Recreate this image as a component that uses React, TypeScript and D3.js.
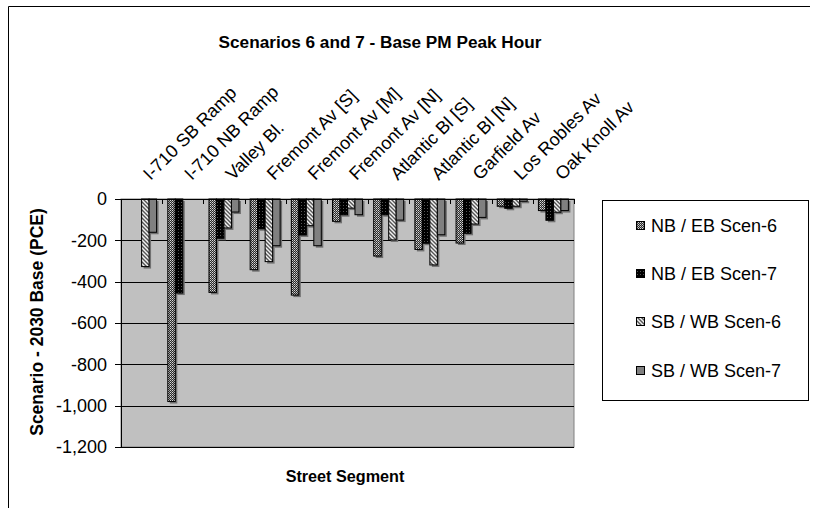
import React from "react";
import * as d3 from "d3";

const categories = [
  "I-710 SB Ramp",
  "I-710 NB Ramp",
  "Valley Bl.",
  "Fremont Av [S]",
  "Fremont Av [M]",
  "Fremont Av [N]",
  "Atlantic Bl [S]",
  "Atlantic Bl [N]",
  "Garfield Av",
  "Los Robles Av",
  "Oak Knoll Av",
];
const nbebScen6 = [0, -980, -452, -342, -465, -108, -276, -244, -213, -35, -56];
const nbebScen7 = [0, -455, -190, -144, -174, -76, -76, -214, -166, -45, -103];
const sbwbScen6 = [-327, 0, -140, -303, -129, -44, -198, -319, -121, -35, -64];
const sbwbScen7 = [-161, 0, -63, -226, -226, -76, -102, -173, -89, -11, -56];
const seriesNames = ["NB / EB Scen-6", "NB / EB Scen-7", "SB / WB Scen-6", "SB / WB Scen-7"];
const seriesValues = [nbebScen6, nbebScen7, sbwbScen6, sbwbScen7];
const seriesFills = ["url(#pChecker)", "url(#pDots)", "url(#pHatch)", "#808080"];
const yTicks = [0, -200, -400, -600, -800, -1000, -1200];

const FONT = "'Liberation Sans', Arial, sans-serif";

export default function App() {
  const plot = { left: 121, right: 574, top: 199, bottom: 447 };
  const x = d3.scaleBand<string>().domain(categories).range([plot.left, plot.right]).padding(0);
  const bw = x.bandwidth();
  const barW = bw / 5.5;
  const xs = d3
    .scaleBand<number>()
    .domain(d3.range(seriesNames.length))
    .range([(bw * 0.75) / 5.5, bw - (bw * 0.75) / 5.5])
    .padding(0);
  const y = d3.scaleLinear().domain([-1200, 0]).range([plot.bottom, plot.top]);
  const fmt = d3
    .formatLocale({ decimal: ".", thousands: ",", grouping: [3], currency: ["$", ""], minus: "-" })
    .format(",");
  const legendYs = [226, 274, 322, 371];

  return (
    <svg
      width={814}
      height={508}
      style={{ position: "absolute", left: 0, top: 0, background: "#fff" }}
      fontFamily={FONT}
    >
      <defs>
        <pattern id="pChecker" width={2} height={2} patternUnits="userSpaceOnUse">
          <rect width={2} height={2} fill="#2a2a2a" />
          <rect x={0} y={0} width={1} height={1} fill="#d8d8d8" />
          <rect x={1} y={1} width={1} height={1} fill="#9a9a9a" />
        </pattern>
        <pattern id="pDots" width={3} height={3} patternUnits="userSpaceOnUse">
          <rect width={3} height={3} fill="#000" />
          <rect x={1} y={1} width={1} height={1} fill="#555" />
        </pattern>
        <pattern id="pHatch" width={4} height={4} patternUnits="userSpaceOnUse">
          <rect width={4} height={4} fill="#f2f2f2" />
          <path d="M0,0 L4,4 M-1,3 L1,5 M3,-1 L5,1" stroke="#555" strokeWidth={1.4} />
        </pattern>
      </defs>

      {/* chart frame */}
      <line x1={8.5} y1={6.5} x2={810} y2={6.5} stroke="#000" />
      <line x1={8.5} y1={6.5} x2={8.5} y2={508} stroke="#000" />

      {/* title */}
      <text x={380} y={48} textAnchor="middle" fontSize={17.2} fontWeight="bold">
        Scenarios 6 and 7 - Base PM Peak Hour
      </text>

      {/* plot area */}
      <rect
        x={plot.left}
        y={plot.top}
        width={plot.right - plot.left}
        height={plot.bottom - plot.top}
        fill="#c0c0c0"
        stroke="#808080"
      />
      {yTicks.map((t) => (
        <g key={t}>
          {t !== 0 && (
            <line x1={plot.left} x2={plot.right} y1={Math.round(y(t)) + 0.5} y2={Math.round(y(t)) + 0.5} stroke="#000" />
          )}
          <line x1={115} x2={plot.left} y1={Math.round(y(t)) + 0.5} y2={Math.round(y(t)) + 0.5} stroke="#000" />
          <text x={107} y={y(t)} dy="0.35em" textAnchor="end" fontSize={18}>
            {fmt(t)}
          </text>
        </g>
      ))}

      {/* bars */}
      {categories.map((c, i) => (
        <g key={c}>
          {seriesValues.map((vals, s) => {
            const v = vals[i];
            if (v === 0) return null;
            const bx = (x(c) as number) + (xs(s) as number);
            const y0 = y(0);
            const y1 = y(v);
            return (
              <g key={s}>
                <rect x={bx + 2} y={y0 + 2} width={barW} height={y1 - y0} fill="#707070" />
                <rect
                  x={bx}
                  y={y0}
                  width={barW}
                  height={y1 - y0}
                  fill={seriesFills[s]}
                  stroke="#000"
                  strokeWidth={1}
                />
              </g>
            );
          })}
        </g>
      ))}

      {/* axes lines */}
      <line x1={plot.left} x2={plot.right} y1={plot.top + 0.5} y2={plot.top + 0.5} stroke="#000" />
      <line x1={plot.left + 0.5} x2={plot.left + 0.5} y1={plot.top} y2={plot.bottom} stroke="#000" />
      {categories.map((c, i) => (
        <line
          key={"t" + i}
          x1={Math.round((x(c) as number) + bw) + 0.5}
          x2={Math.round((x(c) as number) + bw) + 0.5}
          y1={plot.top}
          y2={plot.top + 5}
          stroke="#000"
        />
      ))}

      {/* category labels */}
      {categories.map((c) => {
        const cx = (x(c) as number) + bw / 2 + 9;
        const cy = 181;
        return (
          <text key={"l" + c} transform={`translate(${cx},${cy}) rotate(-45)`} fontSize={18}>
            {c}
          </text>
        );
      })}

      {/* axis titles */}
      <text
        transform={`translate(43,322) rotate(-90)`}
        textAnchor="middle"
        fontSize={17.5}
        fontWeight="bold"
      >
        Scenario - 2030 Base (PCE)
      </text>
      <text x={345} y={482} textAnchor="middle" fontSize={16.2} fontWeight="bold">
        Street Segment
      </text>

      {/* legend */}
      <rect x={602.5} y={200.5} width={206} height={200} fill="#fff" stroke="#000" />
      {seriesNames.map((n, s) => (
        <g key={n}>
          <rect x={636.5} y={legendYs[s] - 4.5} width={8} height={8} fill={seriesFills[s]} stroke="#000" />
          <text x={651} y={legendYs[s]} dy="0.35em" fontSize={18}>
            {n}
          </text>
        </g>
      ))}
    </svg>
  );
}
